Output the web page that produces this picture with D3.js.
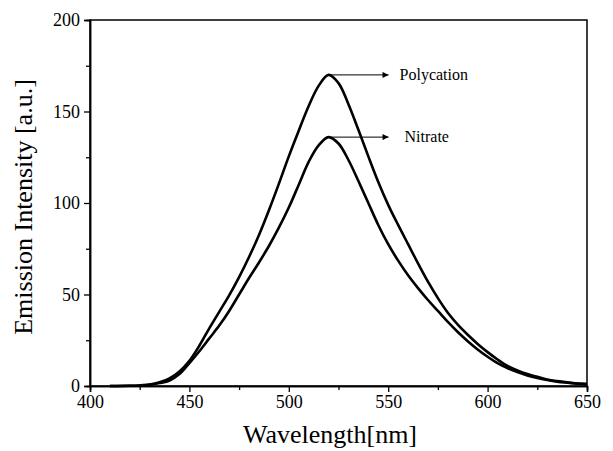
<!DOCTYPE html>
<html>
<head>
<meta charset="utf-8">
<script src="https://cdn.jsdelivr.net/npm/d3@7"></script>
<style>
  body { margin: 0; background: #fff; }
  svg { display: block; font-family: "Liberation Serif", "Times New Roman", serif; }
</style>
</head>
<body>
<div id="chart"></div>
<script>
// wavelength grid (nm)
var wavelengths = [410, 420, 425, 430, 435, 440, 445, 450, 455, 460, 465, 470, 475, 480, 485, 490, 495, 500, 505, 510, 515, 520, 525, 530, 535, 540, 545, 550, 555, 560, 565, 570, 575, 580, 585, 590, 595, 600, 605, 610, 615, 620, 625, 630, 635, 640, 645, 650];

// emission intensity
var polycation = [0, 0.1, 0.3, 0.8, 2, 4.2, 8, 13.8, 22, 31.5, 40.5, 49.5, 59.5, 70.5, 82.5, 96, 110.5, 125.5, 139.5, 153, 164, 170, 165.5, 154, 140, 125.5, 111.5, 99, 88, 77.5, 67, 57, 48, 40, 33.5, 28, 23, 18.5, 14.5, 11, 8.5, 6.5, 5, 3.6, 2.7, 2, 1.4, 1];
var nitrate = [0, 0.1, 0.3, 0.7, 1.6, 3, 6.5, 12.5, 19, 26, 33, 41, 50, 59, 67.5, 76.5, 86.5, 97.5, 110, 122.5, 131.5, 136, 132.5, 123.5, 112, 100, 88, 77.5, 68.5, 60.5, 53.5, 47, 41, 35, 29.5, 24.5, 20, 16, 12.5, 9.8, 7.6, 5.8, 4.4, 3.3, 2.4, 1.8, 1.3, 1];

var xTicks = [400, 450, 500, 550, 600, 650];
var xMinor = [425, 475, 525, 575, 625];
var yTicks = [0, 50, 100, 150, 200];
var yMinor = [25, 75, 125, 175];

var series = [
    { name: "Polycation", values: polycation },
    { name: "Nitrate", values: nitrate }
];

var width = 613, height = 451;
var margin = { top: 20, right: 26, bottom: 65, left: 90 };

var svg = d3.select("#chart").append("svg")
    .attr("width", width)
    .attr("height", height);

var x = d3.scaleLinear().domain([400, 650]).range([margin.left, width - margin.right]);
var y = d3.scaleLinear().domain([0, 200]).range([height - margin.bottom, margin.top]);

// frame
svg.append("rect")
    .attr("x", x(400)).attr("y", y(200))
    .attr("width", x(650) - x(400)).attr("height", y(0) - y(200))
    .attr("fill", "none").attr("stroke", "#000").attr("stroke-width", 1.5);

// x axis
var gx = svg.append("g").attr("transform", "translate(0," + y(0) + ")");
gx.call(d3.axisBottom(x).tickValues(xTicks).tickSize(6).tickPadding(3).tickFormat(d3.format("d")));
gx.append("g").call(d3.axisBottom(x).tickValues(xMinor).tickSize(4).tickFormat(""));

// y axis
var gy = svg.append("g").attr("transform", "translate(" + x(400) + ",0)");
gy.call(d3.axisLeft(y).tickValues(yTicks).tickSize(6).tickPadding(4).tickFormat(d3.format("d")));
gy.append("g").call(d3.axisLeft(y).tickValues(yMinor).tickSize(4).tickFormat(""));

svg.selectAll(".domain").attr("stroke", "#000").attr("stroke-width", 1.5);
svg.selectAll(".tick line").attr("stroke", "#000").attr("stroke-width", 1.3);
svg.selectAll(".tick text")
    .attr("fill", "#000")
    .attr("font-family", "Liberation Serif")
    .attr("font-size", 18);

// axis titles
svg.append("text")
    .attr("x", 330).attr("y", 443)
    .attr("text-anchor", "middle")
    .attr("font-size", 26)
    .text("Wavelength[nm]");

svg.append("text")
    .attr("transform", "translate(32," + 207 + ") rotate(-90)")
    .attr("text-anchor", "middle")
    .attr("font-size", 26)
    .text("Emission Intensity [a.u.]");

// curves
var line = d3.line()
    .x(function(d, i) { return x(wavelengths[i]); })
    .y(function(d) { return y(d); })
    .curve(d3.curveCatmullRom.alpha(0.5));

svg.selectAll(".curve")
    .data(series)
    .enter()
    .append("path")
    .attr("class", "curve")
    .attr("d", function(d) { return line(d.values); })
    .attr("fill", "none")
    .attr("stroke", "#000")
    .attr("stroke-width", 2.6)
    .attr("stroke-linejoin", "round");

// arrow marker
svg.append("defs").append("marker")
    .attr("id", "arrow")
    .attr("viewBox", "0 0 10 10")
    .attr("refX", 10).attr("refY", 5)
    .attr("markerWidth", 9).attr("markerHeight", 6)
    .attr("markerUnits", "userSpaceOnUse")
    .attr("orient", "auto")
    .append("path")
    .attr("d", "M0,0 L10,5 L0,10 Z")
    .attr("fill", "#000");

// labels pointing from the peaks
series.forEach(function(s) {
    var i = d3.maxIndex(s.values);
    var px = x(wavelengths[i]) + 2;
    var py = y(s.values[i]);
    svg.append("line")
        .attr("x1", px).attr("y1", py)
        .attr("x2", px + 58).attr("y2", py)
        .attr("stroke", "#000").attr("stroke-width", 1)
        .attr("marker-end", "url(#arrow)");
    svg.append("text")
        .attr("x", s.name === "Nitrate" ? px + 74 : px + 69)
        .attr("y", py + 5)
        .attr("font-size", 16)
        .text(s.name);
});
</script>
</body>
</html>
